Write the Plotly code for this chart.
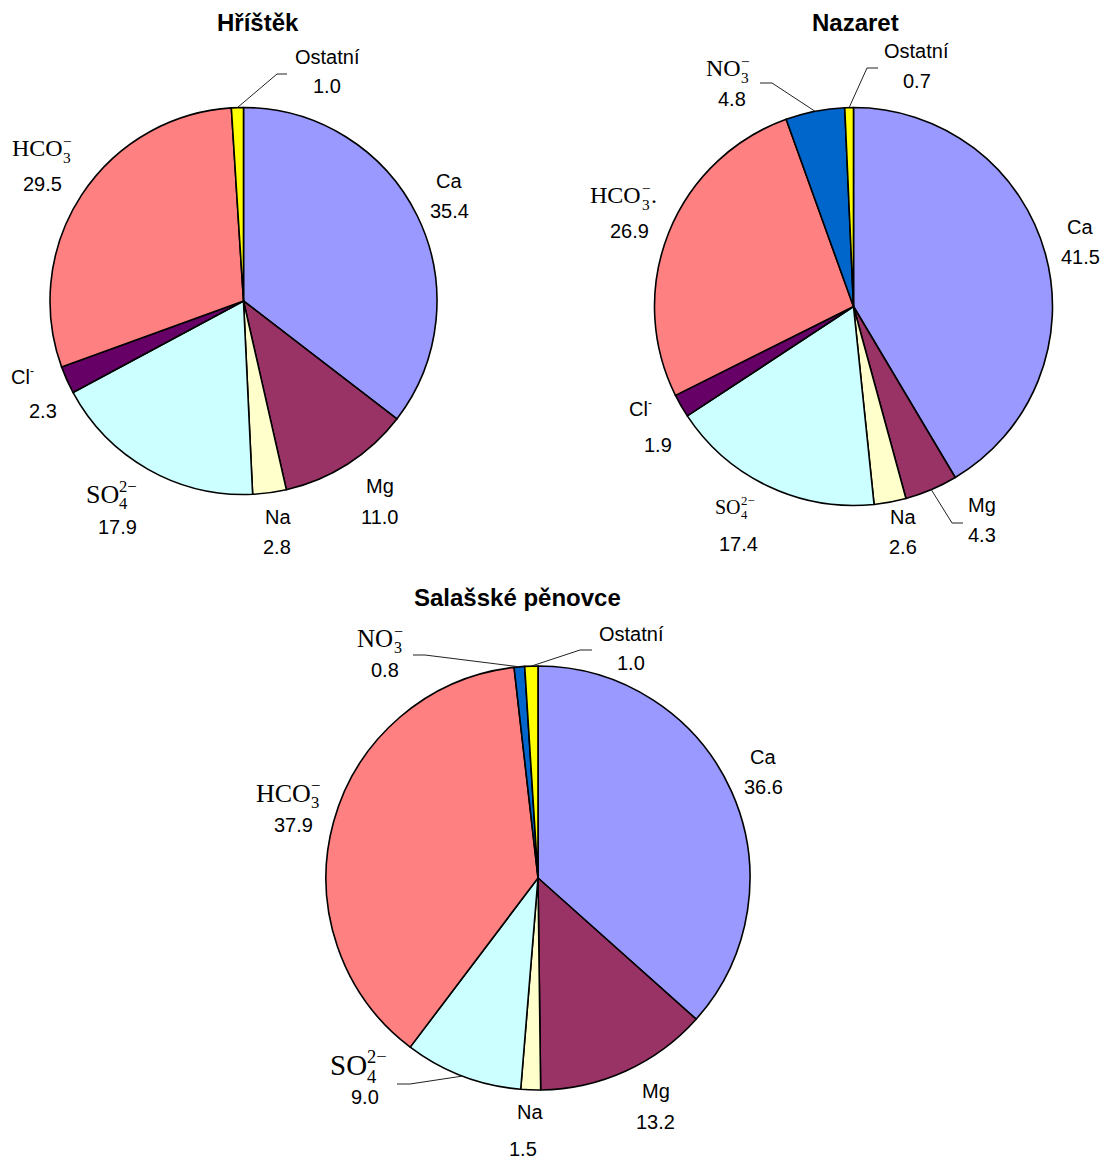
import math
import plotly.graph_objects as go

# Percentage share of ions in three spring waters
hristek_ions = ["Ca", "Mg", "Na", "SO4", "Cl", "HCO3", "Ostatni"]
hristek_values = [35.4, 11.0, 2.8, 17.9, 2.3, 29.5, 1.0]

nazaret_ions = ["Ca", "Mg", "Na", "SO4", "Cl", "HCO3", "NO3", "Ostatni"]
nazaret_values = [41.5, 4.3, 2.6, 17.4, 1.9, 26.9, 4.8, 0.7]

salas_ions = ["Ca", "Mg", "Na", "SO4", "HCO3", "NO3", "Ostatni"]
salas_values = [36.6, 13.2, 1.5, 9.0, 37.9, 0.8, 1.0]

site_titles = ["Hříštěk", "Nazaret", "Salašské pěnovce"]

# Label pieces: (base, subscript, superscript)
ion_parts = {
    "Ca": ("Ca", "", ""), "Mg": ("Mg", "", ""), "Na": ("Na", "", ""),
    "SO4": ("SO", "4", "2−"),
    "Cl": ("Cl", "", "-"),
    "HCO3": ("HCO", "3", "−"),
    "NO3": ("NO", "3", "−"),
    "Ostatni": ("Ostatní", "", ""),
}
hover_names = {
    "Ca": "Ca", "Mg": "Mg", "Na": "Na", "SO4": "SO₄²⁻", "Cl": "Cl⁻",
    "HCO3": "HCO₃⁻", "NO3": "NO₃⁻", "Ostatni": "Ostatní",
}
ion_colors = {
    "Ca": "#9999FF", "Mg": "#993366", "Na": "#FFFFCC", "SO4": "#CCFFFF",
    "Cl": "#660066", "HCO3": "#FF8080", "NO3": "#0066CC", "Ostatni": "#FFFF00",
}
serif_ions = {"SO4", "HCO3", "NO3"}

W, H = 1113, 1160
SANS = "Liberation Sans, Arial, sans-serif"
SERIF = "Liberation Serif, Times New Roman, serif"

# Advance widths (em) used to lay out the stacked chemical formulas
SERIF_W = {"H": .722, "C": .667, "O": .722, "N": .722, "S": .556,
           "−": .564, ".": .25}
SANS_W = {"C": .722, "l": .222, "-": .333, "a": .556, "M": .833, "g": .556}


def text_width(s, size, serif):
    table = SERIF_W if serif else SANS_W
    return sum(table.get(ch, 0.5 if serif else 0.556) for ch in s) * size


def px(x):
    return x / W


def py(y):
    return 1 - y / H


# Layout of each pie: centre, radius (pixels), title position,
# label placement: ion -> (name x, name y, value x, value y, name size)
# leader lines: ion -> (elbow, end)
layouts = [
    dict(ions=hristek_ions, values=hristek_values, cx=243.5, cy=301, r=193.5,
         title=(257.5, 23),
         labels={
             "Ostatni": (327, 57, 327, 86.5, 20),
             "Ca": (449, 181, 449, 211, 20),
             "Mg": (380, 486, 379, 517, 20),
             "Na": (277.5, 517, 277, 547, 20),
             "SO4": (111, 494, 117, 527, 26),
             "Cl": (22, 377, 42.5, 411, 20),
             "HCO3": (41.5, 148, 42, 184.5, 24),
         },
         leaders={"Ostatni": ((277, 74), (287, 74))}),
    dict(ions=nazaret_ions, values=nazaret_values, cx=853.5, cy=306.5, r=199,
         title=(855, 22.5),
         labels={
             "Ostatni": (916, 51.5, 917, 81, 20),
             "NO3": (728, 68, 732, 99, 24),
             "HCO3": (623, 195, 629, 231, 24),
             "Ca": (1080, 227, 1080, 257, 20),
             "Cl": (640, 409, 657.5, 445, 20),
             "SO4": (735, 507, 738, 544, 20),
             "Na": (903, 517, 903, 547, 20),
             "Mg": (982, 505, 982, 535, 20),
         },
         leaders={"NO3": ((772, 83), (760, 83)),
                  "Ostatni": ((867, 68), (878, 68)),
                  "Mg": ((952, 523), (963, 523))}),
    dict(ions=salas_ions, values=salas_values, cx=538, cy=878, r=212,
         title=(517.5, 597),
         labels={
             "Ostatni": (631, 634, 631, 663, 20),
             "NO3": (380, 638, 385, 670, 25),
             "HCO3": (288, 793, 293, 825, 26),
             "Ca": (763, 757, 763, 787, 20),
             "Mg": (656, 1091, 655, 1122, 20),
             "Na": (529.5, 1112, 523, 1149, 20),
             "SO4": (358, 1065, 365, 1097, 29),
         },
         leaders={"NO3": ((425, 655), (413, 655)),
                  "Ostatni": ((580, 650), (592, 650)),
                  "SO4": ((410, 1084), (397, 1084))}),
]

# trailing characters after a formula
name_tails = {(1, "HCO3"): "."}

fig = go.Figure()
annotations = []
shapes = []


def add_text(text, x, y, family, size, xanchor="center"):
    annotations.append(dict(
        text=text, x=px(x), y=py(y), xref="paper", yref="paper",
        xanchor=xanchor, yanchor="middle", showarrow=False,
        borderpad=0, borderwidth=0,
        font=dict(family=family, size=size, color="black"),
    ))


def add_formula(base, sub, sup, tail, x, y, size, serif):
    family = SERIF if serif else SANS
    if not sub and not sup and not tail:
        add_text(base, x, y, family, size)
        return
    small = size * (0.64 if serif else 0.6)
    wb = text_width(base, size, serif)
    ws = max(text_width(sub, small, serif), text_width(sup, small, serif))
    wt = text_width(tail, size, serif)
    left = x - (wb + ws + wt) / 2
    add_text(base, left, y, family, size, "left")
    if sub:
        add_text(sub, left + wb + 0.5, y + 0.38 * size, family, small, "left")
    if sup:
        dy = -0.28 * size if serif else -0.32 * size
        add_text(sup, left + wb + 0.5, y + dy, family, small, "left")
    if tail:
        add_text(tail, left + wb + ws + 1, y, family, size, "left")


for k, (lay, title) in enumerate(zip(layouts, site_titles)):
    cx, cy, r = lay["cx"], lay["cy"], lay["r"]
    ions, values = lay["ions"], lay["values"]
    fig.add_trace(go.Pie(
        labels=[hover_names[i] for i in ions],
        values=values,
        sort=False,
        direction="clockwise",
        rotation=0,
        textinfo="none",
        hovertemplate="%{label}: %{value:.1f}<extra>" + title + "</extra>",
        marker=dict(colors=[ion_colors[i] for i in ions],
                    line=dict(color="black", width=1.6)),
        domain=dict(x=[px(cx - r), px(cx + r)], y=[py(cy + r), py(cy - r)]),
        showlegend=False,
    ))

    add_text(f"<b>{title}</b>", lay["title"][0], lay["title"][1], SANS, 24)

    total = sum(values)
    cum = 0.0
    for ion, v in zip(ions, values):
        mid = (cum + v / 2) / total * 2 * math.pi
        cum += v
        nx, ny, vx, vy, size = lay["labels"][ion]
        base, sub, sup = ion_parts[ion]
        add_formula(base, sub, sup, name_tails.get((k, ion), ""),
                    nx, ny, size, ion in serif_ions)
        add_text(f"{v:.1f}", vx, vy, SANS, 20)
        if ion in lay["leaders"]:
            (ex, ey), (tx, ty) = lay["leaders"][ion]
            sx = cx + r * math.sin(mid)
            sy = cy - r * math.cos(mid)
            path = (f"M {px(sx)},{py(sy)} L {px(ex)},{py(ey)} "
                    f"L {px(tx)},{py(ty)}")
            shapes.append(dict(type="path", path=path, xref="paper",
                               yref="paper",
                               line=dict(color="#222222", width=1)))

fig.update_layout(
    width=W, height=H,
    margin=dict(l=0, r=0, t=0, b=0),
    paper_bgcolor="white", plot_bgcolor="white",
    annotations=annotations, shapes=shapes,
)

fig.write_html("out.html")
